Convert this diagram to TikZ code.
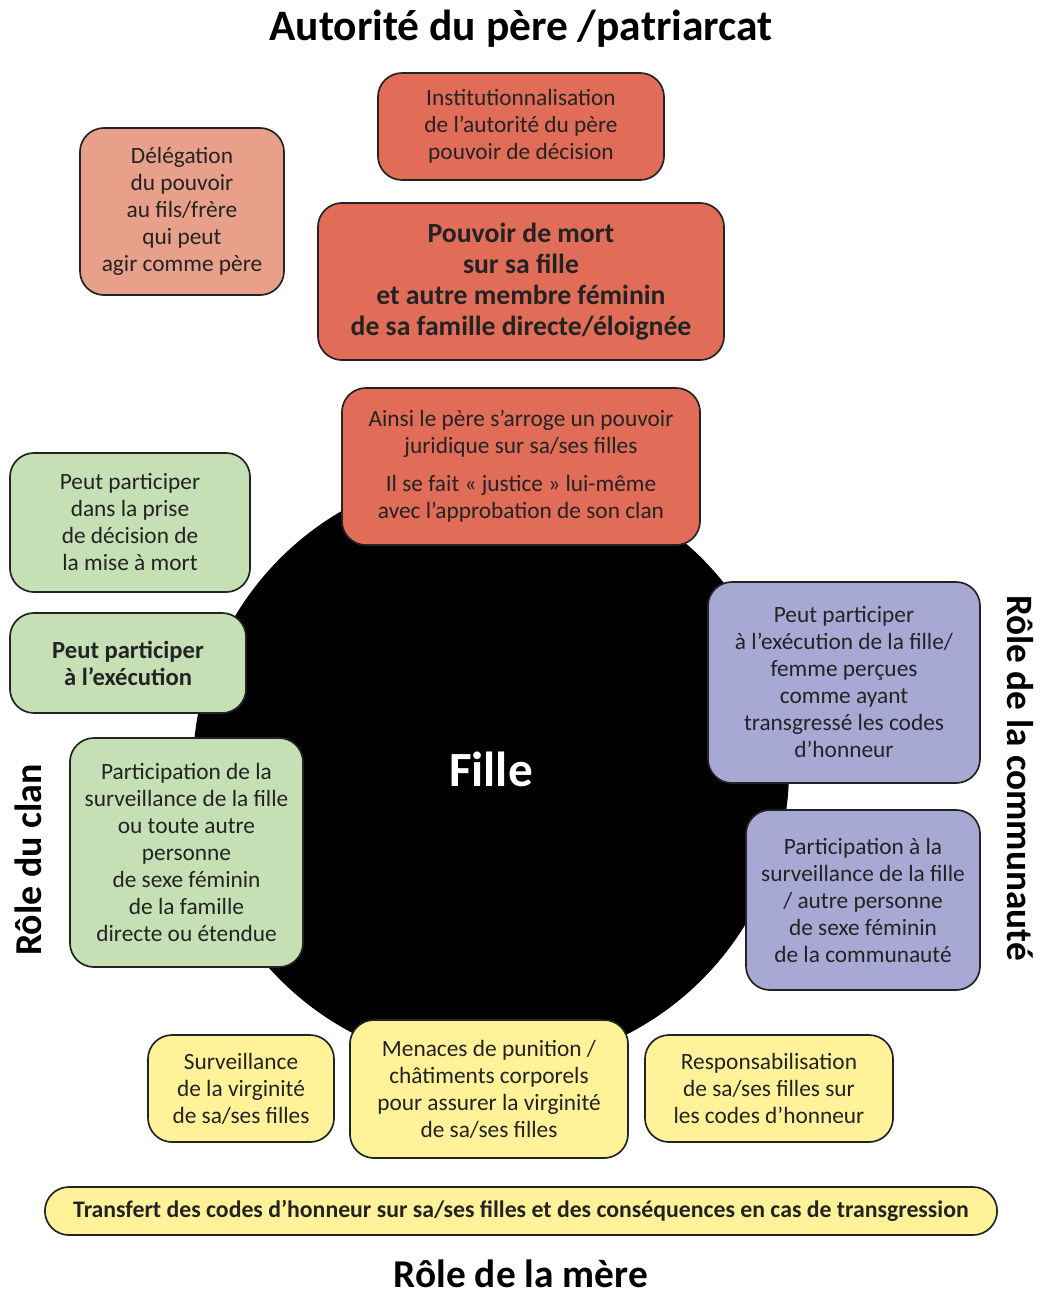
\documentclass[tikz,border=0pt]{standalone}
\usepackage{fontspec}
\setmainfont{Carlito}
\definecolor{pere}{RGB}{225,108,88}
\definecolor{perelight}{RGB}{233,160,138}
\definecolor{clan}{RGB}{197,224,180}
\definecolor{commu}{RGB}{168,168,212}
\definecolor{mere}{RGB}{255,242,153}
\definecolor{ink}{RGB}{35,35,35}
\tikzset{
  rolebox/.style={draw=ink, line width=1.2pt, rounded corners=0.6cm, align=center,
    text=ink, inner sep=0pt, font=\fontsize{16.6}{19.2}\selectfont},
  roletitle/.style={font=\fontsize{28}{32}\selectfont\bfseries, text=black, inner sep=0pt}
}
\begin{document}
\begin{tikzpicture}[x=0.025cm,y=-0.025cm]
% page frame (1044 x 1297 px)
\useasboundingbox (0,0) rectangle (1044,1297);

% the girl in the middle
\node[circle, fill=black, minimum size=14.9cm, inner sep=0pt, text=white,
  font=\fontsize{35}{40}\selectfont\bfseries] (fille) at (491,769) {Fille};

% father
\node[roletitle, font=\fontsize{30.9}{34}\selectfont\bfseries] (titrepere) at (521,29) {Autorité du père /patriarcat};
\node[rolebox, fill=pere, minimum width=7.15cm, minimum height=2.675cm] (inst) at (521,126.5)
  {Institutionnalisation\\de l’autorité du père\\pouvoir de décision};
\node[rolebox, fill=perelight, minimum width=5.1cm, minimum height=4.175cm] (deleg) at (182,211.5)
  {Délégation\\du pouvoir\\au fils/frère\\qui peut\\agir comme père};
\node[rolebox, fill=pere, minimum width=10.15cm, minimum height=3.925cm,
  font=\fontsize{19.7}{22}\selectfont\bfseries] (mort) at (521,281.5)
  {Pouvoir de mort\\sur sa fille\\et autre membre féminin\\de sa famille directe/éloignée};
\node[rolebox, fill=pere, minimum width=8.95cm, minimum height=3.925cm] (ainsi) at (521,466.5)
  {Ainsi le père s’arroge un pouvoir\\juridique sur sa/ses filles\\[8pt]
   Il se fait « justice » lui-même\\avec l’approbation de son clan};

% clan
\node[roletitle, rotate=90, font=\fontsize{27}{30}\selectfont\bfseries] (titreclan) at (28,860) {Rôle du clan};
\node[rolebox, fill=clan, minimum width=6cm, minimum height=3.475cm] (decision) at (130,522.5)
  {Peut participer\\dans la prise\\de décision de\\la mise à mort};
\node[rolebox, fill=clan, minimum width=5.9cm, minimum height=2.5cm,
  font=\fontsize{17.5}{19.2}\selectfont\bfseries] (execclan) at (128,663)
  {Peut participer\\à l’exécution};
\node[rolebox, fill=clan, minimum width=5.825cm, minimum height=5.725cm] (survclan) at (186.5,852.5)
  {Participation de la\\surveillance de la fille\\ou toute autre\\personne\\de sexe féminin\\de la famille\\directe ou étendue};

% community
\node[roletitle, rotate=-90, font=\fontsize{26.5}{30}\selectfont\bfseries] (titrecommu) at (1020,778) {Rôle de la communauté};
\node[rolebox, fill=commu, minimum width=6.8cm, minimum height=5.025cm] (execcommu) at (844,682.5)
  {Peut participer\\à l’exécution de la fille/\\femme perçues\\comme ayant\\transgressé les codes\\d’honneur};
\node[rolebox, fill=commu, minimum width=5.85cm, minimum height=4.5cm] (survcommu) at (863,900)
  {Participation à la\\surveillance de la fille\\/ autre personne\\de sexe féminin\\de la communauté};

% mother
\node[rolebox, fill=mere, minimum width=4.65cm, minimum height=2.675cm] (virgin) at (241,1088.5)
  {Surveillance\\de la virginité\\de sa/ses filles};
\node[rolebox, fill=mere, minimum width=6.95cm, minimum height=3.45cm] (menaces) at (489,1089)
  {Menaces de punition /\\châtiments corporels\\pour assurer la virginité\\de sa/ses filles};
\node[rolebox, fill=mere, minimum width=6.2cm, minimum height=2.675cm] (respons) at (769,1088.5)
  {Responsabilisation\\de sa/ses filles sur\\les codes d’honneur};
\node[rolebox, fill=mere, minimum width=23.8cm, minimum height=1.2cm,
  font=\fontsize{16.9}{19}\selectfont\bfseries] (transfert) at (521,1211)
  {Transfert des codes d’honneur sur sa/ses filles et des conséquences en cas de transgression};
\node[roletitle] (titremere) at (521,1274) {Rôle de la mère};
\end{tikzpicture}
\end{document}
